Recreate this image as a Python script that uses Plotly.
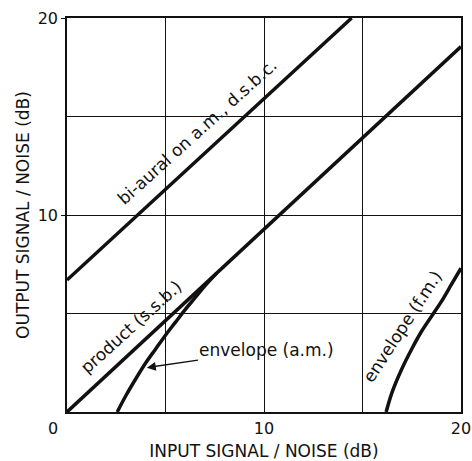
import plotly.graph_objects as go

# ---- data ----
biaural_x = [0.0, 14.45]
biaural_y = [6.7, 20.0]

product_x = [0.0, 20.0]
product_y = [0.0, 18.55]

env_am_x = [2.55, 3.0, 3.5, 4.0, 4.5, 5.0, 5.5, 6.0, 6.5, 7.0, 7.6]
env_am_y = [0.0, 0.85, 1.7, 2.5, 3.2, 3.9, 4.55, 5.2, 5.8, 6.4, 7.05]

env_fm_x = [16.2, 16.5, 17.0, 17.5, 18.0, 18.6, 19.0, 19.5, 20.0]
env_fm_y = [0.0, 1.0, 2.2, 3.2, 4.1, 5.0, 5.6, 6.45, 7.3]

x_ticks = [10, 20]
y_ticks = [10, 20]
grid_vals = [5, 10, 15]

FONT = "DejaVu Sans"
BLACK = "#111111"

fig = go.Figure()
for xs, ys in [(biaural_x, biaural_y), (product_x, product_y),
               (env_am_x, env_am_y), (env_fm_x, env_fm_y)]:
    fig.add_trace(go.Scatter(x=xs, y=ys, mode="lines",
                             line=dict(color=BLACK, width=3.5, shape="spline"),
                             showlegend=False, hoverinfo="skip"))

axis_common = dict(
    range=[0, 20], showgrid=True, gridcolor=BLACK, gridwidth=1.3,
    showline=True, linecolor=BLACK, linewidth=1.6, mirror=True,
    zeroline=False, automargin=False,
    tickfont=dict(family=FONT, size=16, color=BLACK),
    title_font=dict(family=FONT, size=17, color=BLACK),
)

fig.update_xaxes(**axis_common, tickvals=x_ticks, ticks="", ticklabelstandoff=1,
                 title_text="INPUT SIGNAL / NOISE (dB)", title_standoff=9,
                 minor=dict(tickvals=grid_vals, showgrid=True, gridcolor=BLACK, gridwidth=1.3))
fig.update_yaxes(**axis_common, tickvals=y_ticks, ticks="outside", ticklen=4, tickcolor=BLACK,
                 title_text="OUTPUT SIGNAL / NOISE (dB)", title_standoff=4,
                 minor=dict(tickvals=grid_vals, showgrid=True, gridcolor=BLACK, gridwidth=1.3))

lab_font = dict(family=FONT, size=17, color=BLACK)
annotations = [
    dict(x=0, y=0, xref="x", yref="y", text="0", showarrow=False,
         xshift=-14, yshift=-16, font=dict(family=FONT, size=16, color=BLACK)),
    dict(x=6.6, y=14.2, text="bi-aural on a.m., d.s.b.c.", showarrow=False,
         textangle=-42, font=lab_font),
    dict(x=3.25, y=4.3, text="product (s.s.b.)", showarrow=False,
         textangle=-42, font=lab_font),
    dict(x=17.05, y=4.35, text="envelope (f.m.)", showarrow=False,
         textangle=-57, font=lab_font),
    dict(x=4.05, y=2.25, ax=10.15, ay=3.15, axref="x", ayref="y",
         text="envelope (a.m.)", showarrow=True, arrowhead=2, arrowsize=1.2,
         arrowwidth=1.5, arrowcolor=BLACK, standoff=0, font=lab_font),
]

fig.update_layout(
    width=472, height=461,
    margin=dict(l=67, r=11, t=18, b=49),
    plot_bgcolor="white", paper_bgcolor="white",
    annotations=annotations,
)

fig.write_html("out.html")
